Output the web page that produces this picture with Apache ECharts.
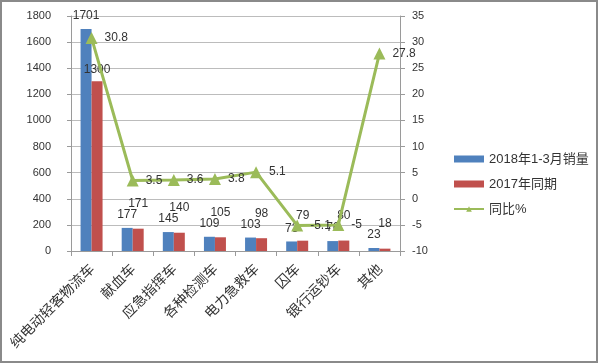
<!DOCTYPE html>
<html><head><meta charset="utf-8">
<script src="https://cdn.jsdelivr.net/npm/echarts@6/dist/echarts.min.js"></script>
<style>
html,body{margin:0;padding:0;background:#fff;}
#c{position:absolute;left:0;top:0;width:600px;height:364px;}
#b{position:absolute;left:0;top:0;width:594px;height:359px;border:2px solid #8a8a8a;pointer-events:none;}
</style></head>
<body><div id="c"></div><div id="b"></div>
<script>
var categories = ['纯电动轻客物流车','献血车','应急指挥车','各种检测车','电力急救车','囚车','银行运钞车','其他'];
var sales2018 = [1701,177,145,109,103,73,76,23];
var sales2017 = [1300,171,140,105,98,79,80,18];
var yoy = [30.8,3.5,3.6,3.8,5.1,-5.1,-5,27.8];
var seriesNames = ['2018年1-3月销量','2017年同期','同比%'];
var leftTicks = {min:0,max:1800,interval:200};
var rightTicks = {min:-10,max:35,interval:5};

var numFont = 'Liberation Sans';
var chart = echarts.init(document.getElementById('c'));
var red = sales2017.map(function(v,i){
  var o = {value:v};
  if(i===0){ o.label = {distance:6}; }
  return o;
});
function plain(v){ return String(v); }
chart.setOption({
  animation:false,
  backgroundColor:'#fff',
  grid:{left:71,right:200,top:16,bottom:113},
  legend:{
    orient:'vertical', left:448, top:147,
    itemWidth:30, itemHeight:7, itemGap:11,
    textStyle:{fontSize:13,color:'#333',fontFamily:'Liberation Sans, Noto Sans CJK SC',lineHeight:14},
    data:[{name:seriesNames[0],icon:'rect'},{name:seriesNames[1],icon:'rect'},{name:seriesNames[2]}]
  },
  xAxis:{
    type:'category', data:categories,
    axisLine:{lineStyle:{color:'#9a9a9a'}},
    axisTick:{show:true,length:5,lineStyle:{color:'#9a9a9a'}},
    axisLabel:{rotate:45,margin:15,fontSize:14,color:'#333',fontFamily:'Noto Sans CJK SC',interval:0}
  },
  yAxis:[{
    type:'value', min:leftTicks.min, max:leftTicks.max, interval:leftTicks.interval,
    axisLine:{show:true,lineStyle:{color:'#9a9a9a'}},
    axisTick:{show:true,length:4,lineStyle:{color:'#9a9a9a'}},
    splitLine:{lineStyle:{color:'#bcbcbc'}},
    axisLabel:{margin:20,fontSize:11,color:'#333',fontFamily:numFont,formatter:plain}
  },{
    type:'value', min:rightTicks.min, max:rightTicks.max, interval:rightTicks.interval,
    position:'right',
    axisLine:{show:true,lineStyle:{color:'#9a9a9a'}},
    axisTick:{show:true,length:5,lineStyle:{color:'#9a9a9a'}},
    splitLine:{show:false},
    axisLabel:{margin:12,fontSize:11,color:'#333',fontFamily:numFont,formatter:plain}
  }],
  series:[{
    name:seriesNames[0], type:'bar', data:sales2018, barWidth:11, barGap:'0%',
    itemStyle:{color:'#4F81BD'},
    label:{show:true,position:'top',distance:7,fontSize:12,color:'#333',fontFamily:numFont}
  },{
    name:seriesNames[1], type:'bar', data:red, barWidth:11,
    itemStyle:{color:'#C0504D'},
    label:{show:true,position:'top',distance:19,fontSize:12,color:'#333',fontFamily:numFont}
  },{
    name:seriesNames[2], type:'line', yAxisIndex:1, data:yoy,
    symbol:'triangle', symbolSize:12,
    lineStyle:{color:'#9BBB59',width:3},
    itemStyle:{color:'#9BBB59'},
    label:{show:true,position:'right',distance:7,fontSize:12,color:'#333',fontFamily:numFont},
    z:5
  }]
});
</script></body></html>
